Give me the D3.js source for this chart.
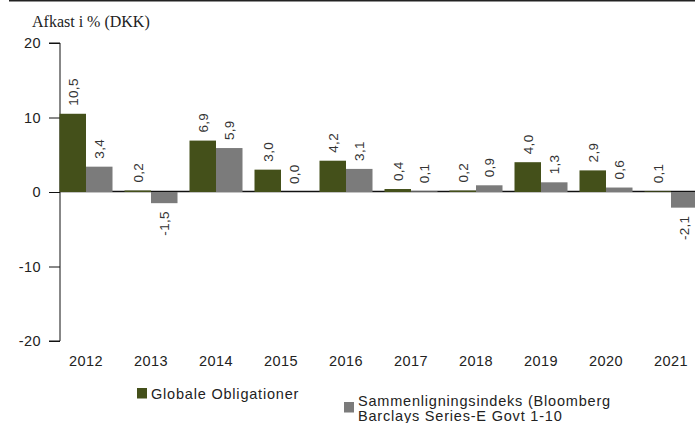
<!DOCTYPE html>
<html><head><meta charset="utf-8">
<script src="https://cdn.jsdelivr.net/npm/d3@7/dist/d3.min.js"></script>
<style>body{margin:0;background:#fff}svg{display:block}</style>
</head><body>
<script>
const categories = ["2012","2013","2014","2015","2016","2017","2018","2019","2020","2021"];
const seriesNames = ["Globale Obligationer", "Sammenligningsindeks (Bloomberg|Barclays Series-E Govt 1-10"];
const globale = [10.5, 0.2, 6.9, 3.0, 4.2, 0.4, 0.2, 4.0, 2.9, 0.1];
const index = [3.4, -1.5, 5.9, 0.0, 3.1, 0.1, 0.9, 1.3, 0.6, -2.1];
const yTicks = [-20, -10, 0, 10, 20];
const colors = ["#44501a", "#7b7b7b"];

const W = 695, H = 423;
const svg = d3.select("body").append("svg").attr("width", W).attr("height", H);
const font = "'Liberation Sans', Arial, sans-serif";

svg.append("line").attr("x1", 9).attr("x2", W).attr("y1", 0.75).attr("y2", 0.75)
  .attr("stroke", "#222").attr("stroke-width", 1.5);

svg.append("text").attr("x", 32).attr("y", 27).text("Afkast i % (DKK)")
  .attr("font-family", "'Liberation Serif', 'Times New Roman', serif").attr("font-size", 16).attr("fill", "#222");

const y = d3.scaleLinear().domain([-20, 20]).range([341, 43]);
const x = d3.scaleBand().domain(categories).range([59.5, 709.5]).paddingInner(0).paddingOuter(0);
const bw = 26.5;

const yAxis = svg.append("g").attr("transform", "translate(60,0)")
  .call(d3.axisLeft(y).tickValues(yTicks).tickSize(11).tickPadding(8).tickFormat(d => String(d)));
yAxis.select(".domain").attr("stroke", "#111").attr("d", `M-11,${y(20)}H0V${y(-20)}H-11`);
yAxis.selectAll(".tick line").attr("stroke", "#111");
yAxis.selectAll(".tick text").attr("font-family", font).attr("font-size", 14.5)
  .attr("letter-spacing", 0.4).attr("fill", "#222");

svg.append("g").selectAll("text").data(categories).join("text")
  .attr("x", d => x(d) + bw).attr("y", 366).attr("text-anchor", "middle")
  .attr("font-family", font).attr("font-size", 14.5).attr("letter-spacing", 0.4)
  .attr("fill", "#222").text(d => d);

svg.append("line").attr("x1", 60).attr("x2", W).attr("y1", y(0) - 0.5).attr("y2", y(0) - 0.5)
  .attr("stroke", "#111").attr("stroke-width", 1.5);

const series = [globale, index];
const fmt = v => v.toFixed(1).replace(".", ",");
series.forEach((vals, si) => {
  const g = svg.append("g");
  g.selectAll("rect").data(vals).join("rect")
    .attr("x", (d, i) => x(categories[i]) + si * bw)
    .attr("width", bw)
    .attr("y", d => y(Math.max(0, d)))
    .attr("height", d => Math.abs(y(d) - y(0)))
    .attr("fill", colors[si]);
  g.selectAll("text").data(vals).join("text")
    .attr("transform", (d, i) => {
      const cx = x(categories[i]) + si * bw + bw / 2 + 1.5;
      const yy = d >= 0 ? y(d) - 8 : y(d) + 8;
      return `translate(${cx},${yy}) rotate(-90)`;
    })
    .attr("text-anchor", d => d >= 0 ? "start" : "end")
    .attr("dominant-baseline", "middle")
    .attr("font-family", font).attr("font-size", 13.5).attr("letter-spacing", 0.3).attr("fill", "#333")
    .text(d => fmt(d));
});

// legend
const leg = [{x: 137, y: 388}, {x: 344, y: 402}];
seriesNames.forEach((n, i) => {
  svg.append("rect").attr("x", leg[i].x).attr("y", leg[i].y).attr("width", 10).attr("height", 10.5).attr("fill", colors[i]);
  const lines = n.split("|");
  lines.forEach((l, k) => {
    svg.append("text").attr("font-family", font).attr("font-size", 14.5).attr("letter-spacing", 0.8)
      .attr("fill", "#222")
      .attr("x", leg[i].x + 14).attr("y", (i === 0 ? 398.5 : 405.5) + k * 15).text(l);
  });
});
</script>
</body></html>
